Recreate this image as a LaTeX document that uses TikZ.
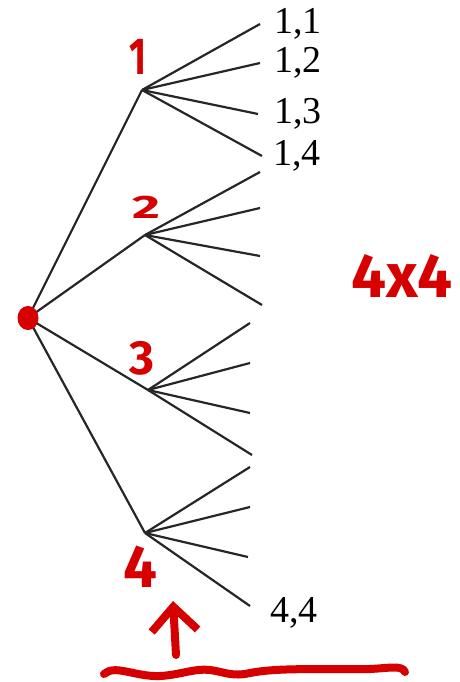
\documentclass[tikz,border=0pt]{standalone}
\usepackage{fontspec}
\setmainfont{Liberation Serif}
\newfontfamily\handfont{Fira Sans}
\usetikzlibrary{arrows.meta,positioning}
\definecolor{inkred}{RGB}{214,0,0}

\begin{document}
\begin{tikzpicture}[
x=1pt, y=-1pt,
branch/.style={line width=2.2pt, draw=black!85},
leaflabel/.style={anchor=west, inner sep=0pt, font=\fontsize{38}{40}\selectfont},
notelabel/.style={text=inkred, inner sep=0pt, font=\handfont\bfseries\fontsize{#1}{#1}\selectfont},
pen/.style={draw=inkred, line width=8pt, line cap=round, line join=round}
]
\useasboundingbox (0,0) rectangle (459,682);

% root and first level
\coordinate (root) at (28,318);
\coordinate (b1) at (142,90);
\coordinate (b2) at (145,235);
\coordinate (b3) at (148,390);
\coordinate (b4) at (145,533);

% leaves
\foreach \n/\x/\y in {11/260/24, 12/260/63, 13/258/114, 14/262/156,
                      21/260/172, 22/260/208, 23/260/256, 24/262/305,
                      31/250/323, 32/250/363, 33/250/413, 34/252/455,
                      41/250/467, 42/250/507, 43/248/557, 44/250/606}
  \coordinate (l\n) at (\x,\y);

\foreach \b in {1,...,4}
  \draw[branch] (root) -- (b\b);
\foreach \b in {1,...,4}
  \foreach \l in {1,...,4}
    \draw[branch] (b\b) -- (l\b\l);

% printed labels
\node[leaflabel, right=14pt of l11] (t11) {1,1};
\node[leaflabel, right=14pt of l12] (t12) {1,2};
\node[leaflabel, right=16pt of l13] (t13) {1,3};
\node[leaflabel, right=11pt of l14] (t14) {1,4};
\node[leaflabel] (t44) at ([xshift=20pt,yshift=-7pt]l44) {4,4};

% red notes
\node[circle, fill=inkred, minimum width=21pt, inner sep=0pt, yscale=1.15] (dot) at (root) {};
\node[notelabel=52, xscale=0.7, transform shape] (r1) at (138,57) {1};
\node[notelabel=54, yscale=0.6, transform shape] (r2) at (146,207) {2};
\node[notelabel=48] (r3) at (142,358) {3};
\node[notelabel=60] (r4) at (140,567) {4};
\node[notelabel=62] (size) at (402,276) {4x4};

\coordinate (tail) at (176,655);
\coordinate (tip) at (173,601);
\draw[pen, -{Straight Barb[length=24pt,width=46pt]}] (tail) -- (tip);

\coordinate (waveL) at (104,674);
\coordinate (waveR) at (405,672);
\draw[pen] (waveL) .. controls (115,664) and (135,677) .. (160,676)
  .. controls (180,675) and (195,668) .. (210,670)
  .. controls (225,672) and (232,677) .. (250,673)
  .. controls (280,667) and (330,670) .. (370,669)
  .. controls (390,668) and (402,665) .. (waveR);
\end{tikzpicture}
\end{document}
